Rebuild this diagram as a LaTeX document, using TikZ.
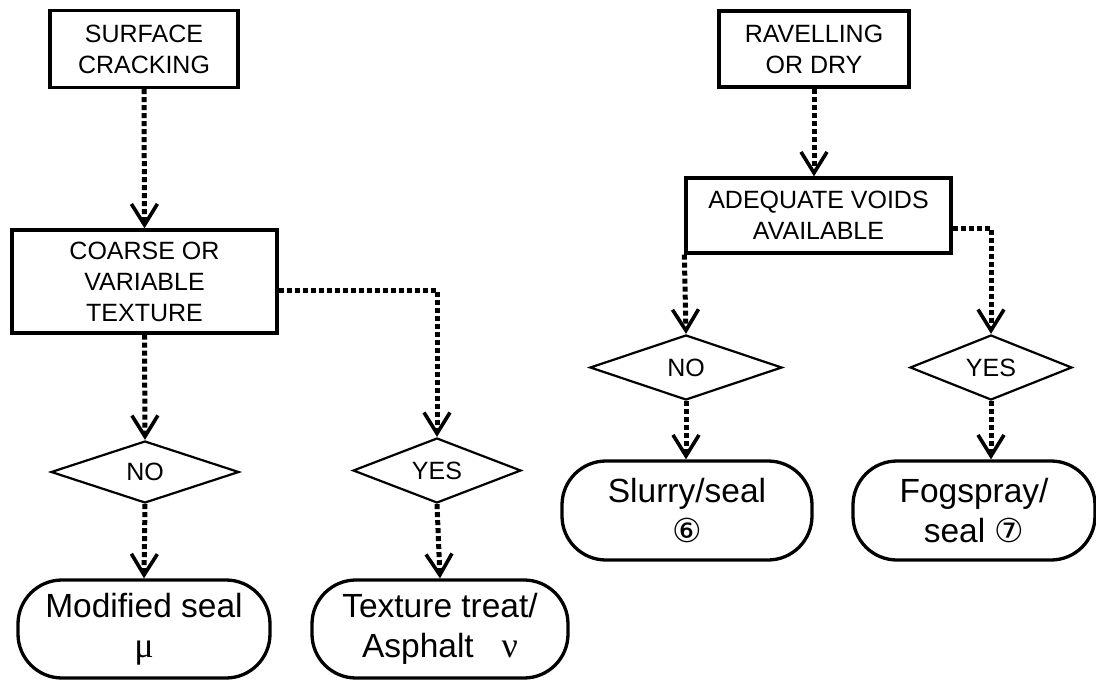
\documentclass[tikz,border=0pt]{standalone}
\usepackage{fontspec}
\setmainfont{Liberation Sans}
\newfontfamily\greekfont{Liberation Serif}
\newfontfamily\circfont{DejaVu Sans}
\usetikzlibrary{shapes.geometric,arrows.meta}

\begin{document}
\begin{tikzpicture}[line cap=butt, line join=miter, x=1pt, y=-1pt,
    box/.style={draw, line width=3.3pt, align=center, inner sep=0pt, font=\fontsize{25}{31}\selectfont},
    choice/.style={draw, diamond, shape aspect=3, line width=2.2pt, inner sep=0pt, font=\fontsize{25}{31}\selectfont},
    result/.style={draw, rectangle, rounded corners=44pt, line width=3.3pt, align=center, inner sep=0pt, font=\fontsize{33.5}{40}\selectfont},
    flow/.style={line width=5pt, dash pattern=on 5pt off 3pt, -{Straight Barb[length=21pt, width=26pt, line width=3.6pt, sharp]}}]

    \useasboundingbox (0,0) rectangle (1096,680);

    \node[box, minimum width=188pt, minimum height=77pt] (surf) at (144,49) {SURFACE\\CRACKING};
    \node[box, minimum width=265pt, minimum height=103pt] (coarse) at (144.5,281.5) {COARSE OR\\VARIABLE\\TEXTURE};
    \node[choice, minimum width=188pt, minimum height=62pt] (noL) at (145,472) {NO};
    \node[choice, minimum width=168pt, minimum height=65pt] (yesL) at (437,470.5) {YES};
    \node[result, minimum width=252pt, minimum height=98pt] (modL) at (144,629) {Modified seal\\{\greekfont\fontsize{36}{40}\selectfont μ}};
    \node[result, minimum width=256pt, minimum height=98pt] (texL) at (440,629) {Texture treat/\\Asphalt~~~{\greekfont\fontsize{36}{40}\selectfont ν}};

    \node[box, minimum width=190pt, minimum height=76pt] (ravel) at (814,49) {RAVELLING\\OR DRY};
    \node[box, minimum width=265pt, minimum height=75pt] (adeq) at (818.5,215.5) {ADEQUATE VOIDS\\AVAILABLE};
    \node[choice, minimum width=192pt, minimum height=65pt] (noR) at (686,367.5) {NO};
    \node[choice, minimum width=162pt, minimum height=65pt] (yesR) at (991,367.5) {YES};
    \node[result, minimum width=250pt, minimum height=99pt] (slurry) at (687,510.5) {Slurry/seal\\{\circfont\fontsize{33}{40}\selectfont ⑥}};
    \node[result, minimum width=242pt, minimum height=99pt] (fog) at (974,510.5) {Fogspray/\\seal {\circfont\fontsize{33}{40}\selectfont ⑦}};

    \draw[flow] (surf.south) -- (coarse.north);
    \draw[flow] (coarse.south) -- (noL.north);
    \draw[flow] ([yshift=-9pt]coarse.east) -| (yesL.north);
    \draw[flow] (noL.south) -- (modL.north);
    \draw[flow] (yesL.south) -- (texL.north);

    \draw[flow] (ravel.south) -- (ravel.south |- adeq.north);
    \draw[flow] (adeq.south west) -- (noR.north);
    \draw[flow] ([yshift=-12.5pt]adeq.east) -| (yesR.north);
    \draw[flow] (noR.south) -- (noR.south |- slurry.north);
    \draw[flow] (yesR.south) -- (yesR.south |- fog.north);

\end{tikzpicture}
\end{document}
